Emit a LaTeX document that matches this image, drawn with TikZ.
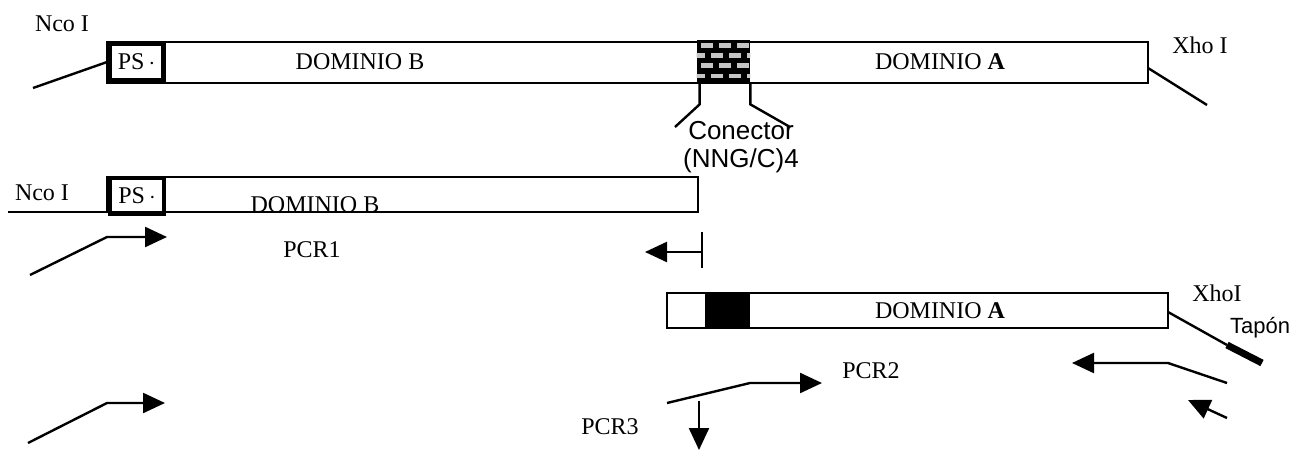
\documentclass[tikz,border=0pt]{standalone}
\usepackage{fontspec}
\setmainfont{Liberation Serif}
\setsansfont{Liberation Sans}
\usetikzlibrary{arrows.meta}

\begin{document}
\begin{tikzpicture}[
    x=0.5pt, y=-0.5pt,
    bar/.style={draw, line width=1.2pt},
    psbox/.style={draw, line width=2.4pt, minimum width=27pt, minimum height=18pt,
                  inner sep=0pt, font=\fontsize{12}{14}\selectfont},
    lbl/.style={inner sep=0pt, font=\fontsize{12}{14}\selectfont},
    sflbl/.style={inner sep=0pt, align=center, font=\sffamily\fontsize{13}{14}\selectfont},
    ln/.style={line width=1.2pt},
    arr/.style={line width=1.2pt, -{Triangle[length=11pt, width=10pt]}},
]
\useasboundingbox (0,0) rectangle (1297,455);

% construccion completa
\draw[bar] (107,42) rectangle (1148,83);
\node[psbox] (ps1) at (136.5,62) {PS\,$\cdot$};
\node[minimum width=26.5pt, minimum height=21pt, inner sep=0pt, fill=black] (link) at (723.5,61) {};
\begin{scope}
  \clip (link.south west) rectangle (link.north east);
  \foreach \r in {0,...,3}
    \foreach \c in {0,...,3}
      \fill[gray!45] ({697+4+\c*18-mod(\r,2)*8},{43+\r*10.2}) rectangle ++(12,4.5);
\end{scope}
\node[lbl] (nco1) at (62,24) {Nco I};
\node[lbl] (domB1) at (360,62) {DOMINIO B};
\node[lbl] (domA1) at (940,62) {DOMINIO \textbf{A}};
\node[lbl] (xho1) at (1200,45) {Xho I};
\node[sflbl] (conn) at (741,147) {Conector\\(NNG/C)4};
\coordinate (ncoEnd1) at (33,88);
\coordinate (xhoBar1) at (1148,68);
\coordinate (xhoEnd1) at (1207,105);
\draw[ln] (ncoEnd1) -- (ps1.west);
\draw[ln] (xhoBar1) -- (xhoEnd1);
\draw[ln] (link.south west) ++(3,0) -- ++(0,22) -- (675,127);
\draw[ln] (link.south east) -- ++(0,22) -- (790,127);

% fragmento PCR1
\draw[bar] (107,177) rectangle (698,212);
\coordinate (ncoEnd2) at (8,212);
\draw[bar] (ncoEnd2) -- (107,212);
\node[psbox] (ps2) at (137,196) {PS\,$\cdot$};
\node[lbl] (nco2) at (42,193) {Nco I};
\node[lbl] (domB2) at (315,205) {DOMINIO B};
\node[lbl] (pcr1) at (312,250) {PCR1};
\coordinate (f1a) at (30,275);
\coordinate (f1b) at (107,237);
\coordinate (f1c) at (167,237);
\draw[arr] (f1a) -- (f1b) -- (f1c);
\coordinate (r1top) at (702,232);
\coordinate (r1bot) at (702,268);
\coordinate (r1mid) at (702,252);
\coordinate (r1tip) at (645,252);
\draw[ln] (r1top) -- (r1bot);
\draw[arr] (r1mid) -- (r1tip);

% fragmento PCR2
\draw[bar] (667,293) rectangle (1168,328);
\fill[black] (705,293) rectangle (750,328);
\node[lbl] (domA2) at (940,311) {DOMINIO \textbf{A}};
\node[lbl] (xho2) at (1217,293) {XhoI};
\node[sflbl, font=\sffamily\fontsize{11}{13}\selectfont] (tapon) at (1260,328) {Tapón};
\coordinate (xhoBar2) at (1168,312);
\coordinate (capA) at (1227,345);
\coordinate (capB) at (1262,363);
\draw[ln] (xhoBar2) -- (capA);
\draw[line width=3.5pt] (capA) -- (capB);
\coordinate (r2a) at (1227,383);
\coordinate (r2b) at (1168,363);
\coordinate (r2tip) at (1072,363);
\draw[arr] (r2a) -- (r2b) -- (r2tip);
\coordinate (r3a) at (1227,418);
\coordinate (r3tip) at (1188,400);
\draw[arr] (r3a) -- (r3tip);
\node[lbl] (pcr2) at (871,371) {PCR2};
\coordinate (f2a) at (667,403);
\coordinate (f2b) at (750,383);
\coordinate (f2tip) at (822,383);
\draw[arr] (f2a) -- (f2b) -- (f2tip);

% PCR3
\node[lbl] (pcr3) at (610,427) {PCR3};
\coordinate (d3a) at (699,401);
\coordinate (d3tip) at (699,450);
\draw[arr] (d3a) -- (d3tip);
\coordinate (f3a) at (28,443);
\coordinate (f3b) at (107,403);
\coordinate (f3tip) at (165,403);
\draw[arr] (f3a) -- (f3b) -- (f3tip);
\end{tikzpicture}
\end{document}
